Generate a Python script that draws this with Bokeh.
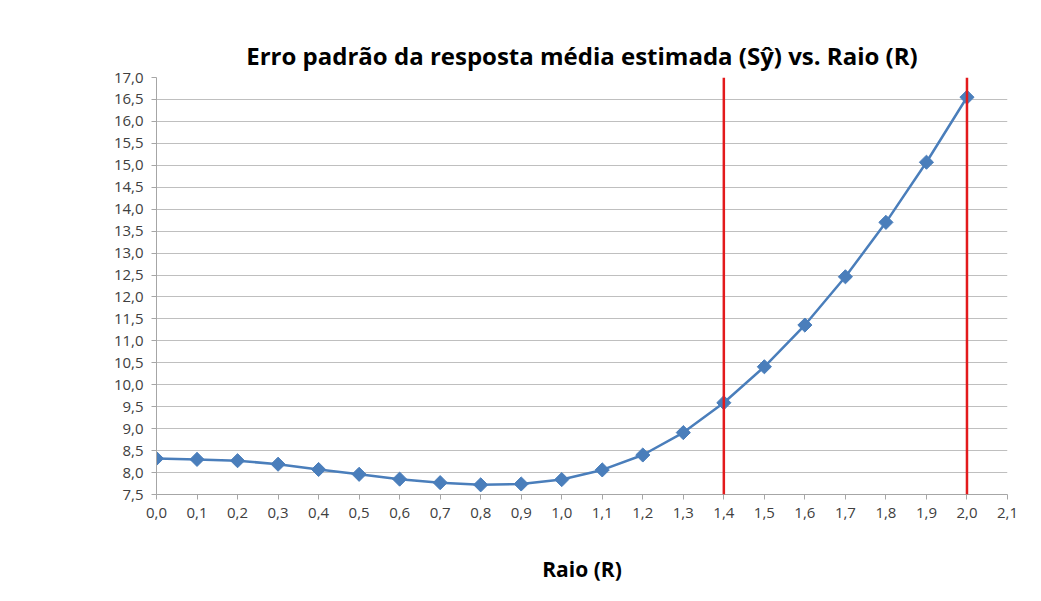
import math
from bokeh.plotting import figure
from bokeh.models import Range1d, FixedTicker, CustomJSTickFormatter, Span, Title
from bokeh.embed import file_html
from bokeh.resources import INLINE

# Data
raio = [0.0, 0.1, 0.2, 0.3, 0.4, 0.5, 0.6, 0.7, 0.8, 0.9, 1.0,
        1.1, 1.2, 1.3, 1.4, 1.5, 1.6, 1.7, 1.8, 1.9, 2.0]
erro_padrao = [8.32, 8.30, 8.27, 8.19, 8.07, 7.96, 7.85, 7.77, 7.72, 7.74, 7.84,
               8.06, 8.40, 8.91, 9.59, 10.41, 11.36, 12.46, 13.70, 15.07, 16.55]
limites = [1.4, 2.0]
x_ticks = [round(i * 0.1, 1) for i in range(22)]
y_ticks = [7.5 + 0.5 * i for i in range(20)]

FONT = "Open Sans"
BLUE = "#4a7ebb"
RED = "#e31a1c"

p = figure(width=1025, height=585, output_backend="svg", toolbar_location=None,
           x_range=Range1d(0, 2.1), y_range=Range1d(7.5, 17.0),
           min_border_left=156, min_border_right=18, min_border_top=77, min_border_bottom=90)
p.outline_line_color = None
p.background_fill_color = "white"
p.border_fill_color = "white"

p.title = Title(text="Erro padrão da resposta média estimada (Sŷ) vs. Raio (R)",
                align="center", text_font=FONT, text_font_size="24px",
                text_font_style="bold", text_color="#000000", offset=0, standoff=12)

comma = CustomJSTickFormatter(code="return tick.toFixed(1).replace('.', ',');")

# Axes
p.xaxis.ticker = FixedTicker(ticks=x_ticks)
p.yaxis.ticker = FixedTicker(ticks=y_ticks)
p.xaxis.formatter = comma
p.yaxis.formatter = comma
for ax in (p.xaxis, p.yaxis):
    ax.axis_line_color = "#a6a6a6"
    ax.major_tick_line_color = "#a6a6a6"
    ax.major_tick_out = 5
    ax.major_tick_in = 0
    ax.minor_tick_line_color = None
    ax.major_label_text_font = FONT
    ax.major_label_text_font_size = "15px"
    ax.major_label_text_color = "#404040"
p.xaxis.major_label_standoff = 8
p.yaxis.major_label_standoff = 8
p.xaxis.axis_label = "Raio (R)"
p.xaxis.axis_label_text_font = FONT
p.xaxis.axis_label_text_font_size = "21px"
p.xaxis.axis_label_text_font_style = "bold"
p.xaxis.axis_label_text_color = "#000000"
p.xaxis.axis_label_standoff = 34

p.xgrid.grid_line_color = None
p.ygrid.grid_line_color = "#bfbfbf"
p.ygrid.grid_line_width = 1

# Red limit lines
for lim in limites:
    p.add_layout(Span(location=lim, dimension="height", line_color=RED, line_width=2.5))

# Series
p.line(raio, erro_padrao, line_color=BLUE, line_width=2.5)
p.scatter(raio, erro_padrao, marker="square", angle=math.pi / 4, size=10,
          fill_color=BLUE, line_color=BLUE)

open("out.html", "w").write(file_html(p, INLINE))
